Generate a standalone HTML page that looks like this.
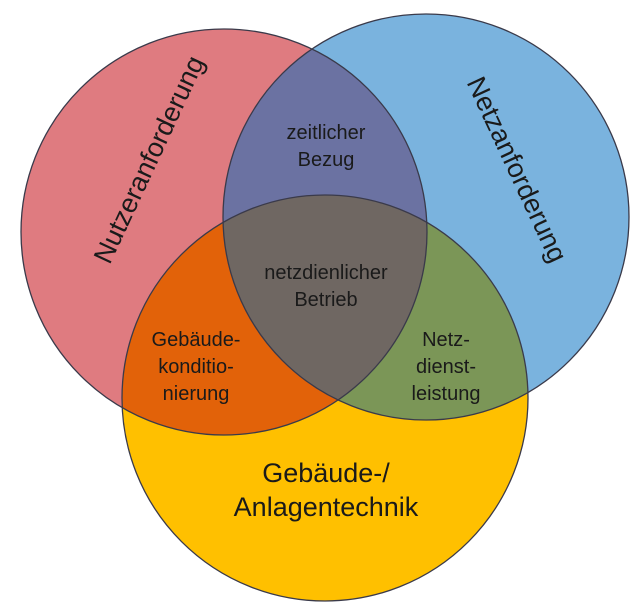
<!DOCTYPE html>
<html><head><meta charset="utf-8"><style>
html,body{margin:0;padding:0;background:#fff;}
svg{display:block;}
text{font-family:"Liberation Sans",sans-serif;fill:#1a1a1a;text-anchor:middle;}
</style></head><body>
<svg width="640" height="605" viewBox="0 0 640 605">
<defs>
<clipPath id="cr"><circle cx="224" cy="232" r="203"/></clipPath>
<clipPath id="cb"><circle cx="426" cy="217" r="203"/></clipPath>
<clipPath id="cy"><circle cx="325" cy="398" r="203"/></clipPath>
</defs>
<rect width="640" height="605" fill="#fff"/>
<circle cx="224" cy="232" r="203" fill="#df7b80"/>
<circle cx="426" cy="217" r="203" fill="#7ab3de"/>
<circle cx="325" cy="398" r="203" fill="#ffc000"/>
<g clip-path="url(#cr)"><circle cx="426" cy="217" r="203" fill="#6b72a2"/><circle cx="325" cy="398" r="203" fill="#e26209"/></g>
<g clip-path="url(#cb)"><circle cx="325" cy="398" r="203" fill="#7b9657"/></g>
<g clip-path="url(#cr)"><g clip-path="url(#cb)"><circle cx="325" cy="398" r="203" fill="#6f6762"/></g></g>
<g fill="none" stroke="#3a3a4a" stroke-width="1.3">
<circle cx="224" cy="232" r="203"/>
<circle cx="426" cy="217" r="203"/>
<circle cx="325" cy="398" r="203"/>
</g>
<text x="150" y="168" font-size="27" transform="rotate(-65 150 160)">Nutzeranforderung</text>
<text x="516" y="178" font-size="27" transform="rotate(65 516 170)">Netzanforderung</text>
<text x="326" y="139" font-size="20">zeitlicher</text>
<text x="326" y="166" font-size="20">Bezug</text>
<text x="326" y="279" font-size="20">netzdienlicher</text>
<text x="326" y="306" font-size="20">Betrieb</text>
<text x="196" y="346" font-size="20">Gebäude-</text>
<text x="196" y="373" font-size="20">konditio-</text>
<text x="196" y="400" font-size="20">nierung</text>
<text x="446" y="346" font-size="20">Netz-</text>
<text x="446" y="373" font-size="20">dienst-</text>
<text x="446" y="400" font-size="20">leistung</text>
<text x="326" y="482" font-size="27">Gebäude-/</text>
<text x="326" y="516" font-size="27">Anlagentechnik</text>
</svg>
</body></html>
